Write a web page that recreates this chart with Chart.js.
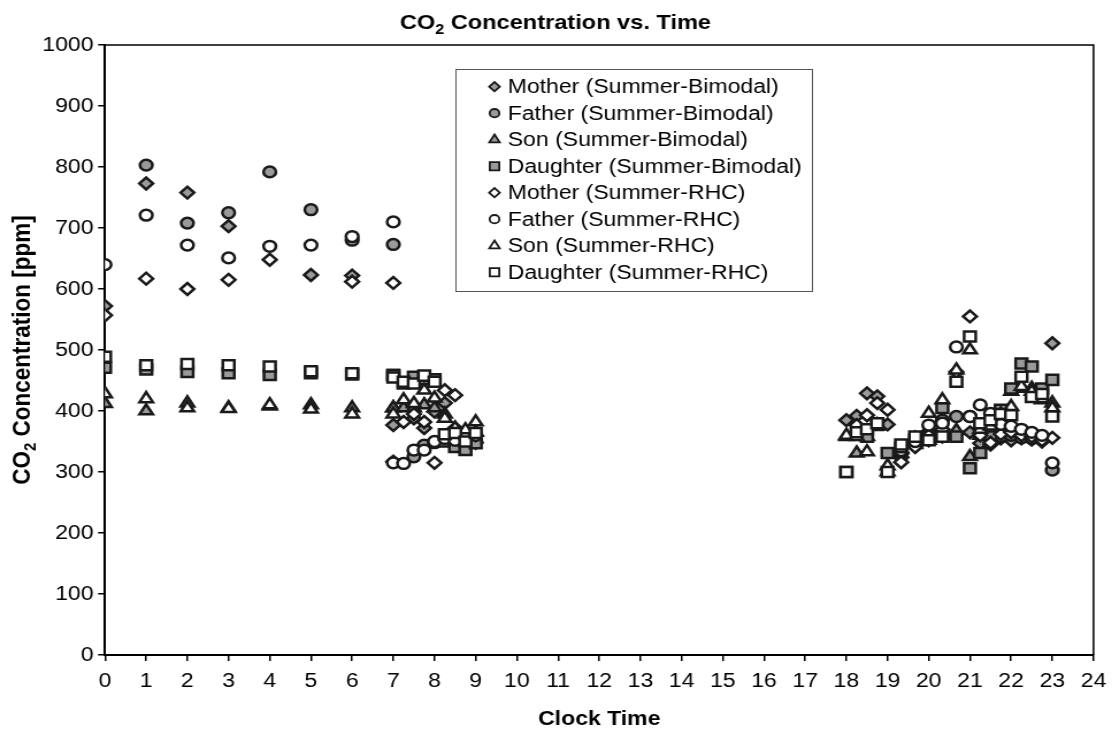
<!DOCTYPE html>
<html>
<head>
<meta charset="utf-8">
<title>CO2 Concentration vs. Time</title>
<script src="https://cdn.jsdelivr.net/npm/chart.js@4.4.1/dist/chart.umd.min.js"></script>
<style>
  html, body { margin: 0; padding: 0; background: #fff; overflow: hidden; }
  /* the chart is laid out narrow and widened horizontally */
  #wrap { width: 970px; height: 734px; transform: scaleX(1.15); transform-origin: 0 0; }
</style>
</head>
<body>
<div id="wrap"><canvas id="co2Chart" width="970" height="734"></canvas></div>
<script>
// clock time of each reading: hourly overnight, quarter-hourly in the morning, evening block
const times = [
  0, 1, 2, 3, 4, 5, 6, 7,
  7, 7.25, 7.5, 7.75, 8, 8.25, 8.5, 8.75, 9,
  18, 18.25, 18.5, 18.75, 19, 19.33, 19.67, 20, 20.33, 20.67, 21, 21.25, 21.5, 21.75, 22, 22.25, 22.5, 22.75, 23
];

// CO2 readings in ppm, one array per person and scenario (null = no reading)
const motherBimodal = [
  572, 773, 758, 703, null, 623, 622, null,
  377, null, 388, 372, 399, 413, 372, 352, 348,
  385, 392, 429, 424, 378, 330, 345, 352, 358, 362, 365, 347, 345, 355, 352, 355, 353, 350, 511
];
const fatherBimodal = [
  null, 803, 708, 725, 792, 730, 680, 673,
  null, null, 325, 344, 348, 352, 345, 340, 350,
  null, null, null, null, null, 325, 345, 365, 385, 391, 391, 370, 362, 358, 360, 356, 355, 354, 303
];
const sonBimodal = [
  412, 400, 413, 405, 408, 410, 405, 405,
  405, 405, 405, 410, 405, 395, 370, 362, 365,
  358, 331, 358, 375, 300, 330, 345, 352, 360, 368, 325, 360, 370, 385, 432, 437, 437, 418, 413
];
const daughterBimodal = [
  471, 468, 464, 462, 459, 462, 460, 459,
  459, 445, 456, 452, 452, 350, 341, 336, 347,
  300, null, 358, 377, 331, 340, 352, 358, 405, 358, 306, 331, 358, 402, 437, 478, 473, 437, 451
];
const motherRhc = [
  557, 617, 600, 615, 648, null, 612, 610,
  317, 382, 395, 382, 315, 434, 426, 355, 360,
  null, 377, 393, 413, 402, 316, 341, 360, 370, 464, 555, 360, 348, 362, 365, 360, 358, 352, 356
];
const fatherRhc = [
  640, 721, 672, 651, 670, 672, 686, 710,
  315, 314, 336, 336, 350, 355, 352, 356, 360,
  null, null, null, null, null, 335, 350, 377, 380, 505, 391, 410, 396, 378, 375, 370, 365, 360, 315
];
const sonRhc = [
  428, 420, 405, 404, 410, 403, 395, null,
  395, 418, 412, 434, 421, 388, 372, 369, 382,
  360, 358, 333, 377, 310, 338, 355, 396, 418, 467, 500, 370, 375, 395, 407, 440, 432, 420, 405
];
const daughterRhc = [
  489, 475, 477, 475, 473, 465, 462, null,
  455, 448, 445, 458, 448, 362, 364, 350, 364,
  300, 365, 370, 380, 300, 345, 358, 352, 358, 448, 522, 380, 385, 395, 393, 456, 423, 428, 391
];

const xTicks = { min: 0, max: 24, step: 1 };
const yTicks = { min: 0, max: 1000, step: 100 };

const GRAY = '#9a9a9a';
const EDGE = '#1a1a1a';
const FONT = '"Liberation Sans", Arial, sans-serif';

function points(values) {
  const out = [];
  values.forEach((v, i) => { if (v !== null) out.push({ x: times[i], y: v }); });
  return out;
}

function series(label, values, style, fill, radius) {
  return {
    label: label,
    data: points(values),
    pointStyle: style,
    pointRadius: radius,
    pointHoverRadius: radius,
    backgroundColor: fill,
    borderColor: EDGE,
    pointBorderWidth: 2.5,
    showLine: false
  };
}

const datasets = [
  series('Mother (Summer-Bimodal)', motherBimodal, 'rectRot', GRAY, 5.9),
  series('Father (Summer-Bimodal)', fatherBimodal, 'circle', GRAY, 5.4),
  series('Son (Summer-Bimodal)', sonBimodal, 'triangle', GRAY, 6.7),
  series('Daughter (Summer-Bimodal)', daughterBimodal, 'rect', GRAY, 7.1),
  series('Mother (Summer-RHC)', motherRhc, 'rectRot', '#ffffff', 5.9),
  series('Father (Summer-RHC)', fatherRhc, 'circle', '#ffffff', 5.4),
  series('Son (Summer-RHC)', sonRhc, 'triangle', '#ffffff', 6.7),
  series('Daughter (Summer-RHC)', daughterRhc, 'rect', '#ffffff', 7.1)
];
// later series sit on top
datasets.forEach((d, i) => { d.order = datasets.length - i; });

// text with a subscript part, centred on cx
function subText(ctx, before, sub, after, cx, baseline, size) {
  const big = 'bold ' + size + 'px ' + FONT;
  const small = 'bold ' + Math.round(size * 0.66) + 'px ' + FONT;
  ctx.font = big;
  const w1 = ctx.measureText(before).width;
  const w3 = ctx.measureText(after).width;
  ctx.font = small;
  const w2 = ctx.measureText(sub).width;
  let x = cx - (w1 + w2 + w3) / 2;
  ctx.textAlign = 'left';
  ctx.textBaseline = 'alphabetic';
  ctx.font = big;
  ctx.fillText(before, x, baseline);
  x += w1;
  ctx.font = small;
  ctx.fillText(sub, x, baseline + size * 0.22);
  x += w2;
  ctx.font = big;
  ctx.fillText(after, x, baseline);
}

const decorations = {
  id: 'decorations',
  beforeDraw(chart) {
    const ctx = chart.ctx;
    ctx.save();
    ctx.fillStyle = '#fff';
    ctx.fillRect(0, 0, chart.width, chart.height);
    ctx.restore();
  },
  afterDraw(chart) {
    const { ctx, chartArea: a } = chart;
    ctx.save();

    // top and right sides of the plot frame
    ctx.strokeStyle = '#000';
    ctx.lineWidth = 1.5;
    ctx.beginPath();
    ctx.moveTo(a.left, a.top);
    ctx.lineTo(a.right, a.top);
    ctx.lineTo(a.right, a.bottom);
    ctx.stroke();

    ctx.fillStyle = '#000';
    subText(ctx, 'CO', '2', ' Concentration vs. Time', 483, 29, 20.5);

    ctx.font = 'bold 20px ' + FONT;
    ctx.textAlign = 'center';
    ctx.textBaseline = 'alphabetic';
    ctx.fillText('Clock Time', (a.left + a.right) / 2, 725);

    ctx.save();
    ctx.translate(18, (a.top + a.bottom) / 2);
    ctx.rotate(-Math.PI / 2);
    subText(ctx, 'CO', '2', ' Concentration [ppm]', 0, 8, 22.5);
    ctx.restore();

    // legend box
    const box = { x: 396, y: 69, w: 310, h: 222 };
    ctx.fillStyle = '#fff';
    ctx.fillRect(box.x, box.y, box.w, box.h);
    ctx.strokeStyle = '#555';
    ctx.lineWidth = 1;
    ctx.strokeRect(box.x + 0.5, box.y + 0.5, box.w, box.h);

    const legendRadius = { rectRot: 4.6, circle: 4.2, triangle: 5.2, rect: 5.8 };
    chart.data.datasets.forEach((d, i) => {
      const y = 86.7 + i * 26.5;
      ctx.fillStyle = d.backgroundColor;
      ctx.strokeStyle = EDGE;
      ctx.lineWidth = 1.8;
      Chart.helpers.drawPoint(ctx, {
        pointStyle: d.pointStyle,
        radius: legendRadius[d.pointStyle],
        rotation: 0,
        borderWidth: 1.8
      }, 430, y);
      ctx.fillStyle = '#000';
      ctx.font = '20px ' + FONT;
      ctx.textAlign = 'left';
      ctx.textBaseline = 'middle';
      ctx.fillText(d.label, 441.5, y + 1);
    });

    ctx.restore();
  }
};

new Chart(document.getElementById('co2Chart'), {
  type: 'scatter',
  data: { datasets: datasets },
  plugins: [decorations],
  options: {
    responsive: false,
    animation: false,
    devicePixelRatio: 1,
    layout: { padding: { top: 45, right: 13.5, left: 0, bottom: 0 } },
    plugins: {
      legend: { display: false },
      title: { display: false },
      tooltip: { enabled: false }
    },
    scales: {
      x: {
        type: 'linear',
        min: xTicks.min,
        max: xTicks.max,
        afterFit(scale) { scale.height = 79; },
        ticks: {
          stepSize: xTicks.step,
          color: '#000',
          font: { family: FONT, size: 20 },
          padding: 8,
          maxRotation: 0,
          autoSkip: false,
          callback: (v) => String(v)
        },
        grid: { drawOnChartArea: false, drawTicks: true, tickLength: 6, color: '#000', lineWidth: 1.5 },
        border: { display: true, color: '#000', width: 2 }
      },
      y: {
        min: yTicks.min,
        max: yTicks.max,
        afterFit(scale) { scale.width = 91.3; },
        ticks: {
          stepSize: yTicks.step,
          color: '#000',
          font: { family: FONT, size: 20 },
          padding: 4,
          callback: (v) => String(v)
        },
        grid: { drawOnChartArea: false, drawTicks: true, tickLength: 6, color: '#000', lineWidth: 1.5 },
        border: { display: true, color: '#000', width: 2 }
      }
    }
  }
});
</script>
</body>
</html>
